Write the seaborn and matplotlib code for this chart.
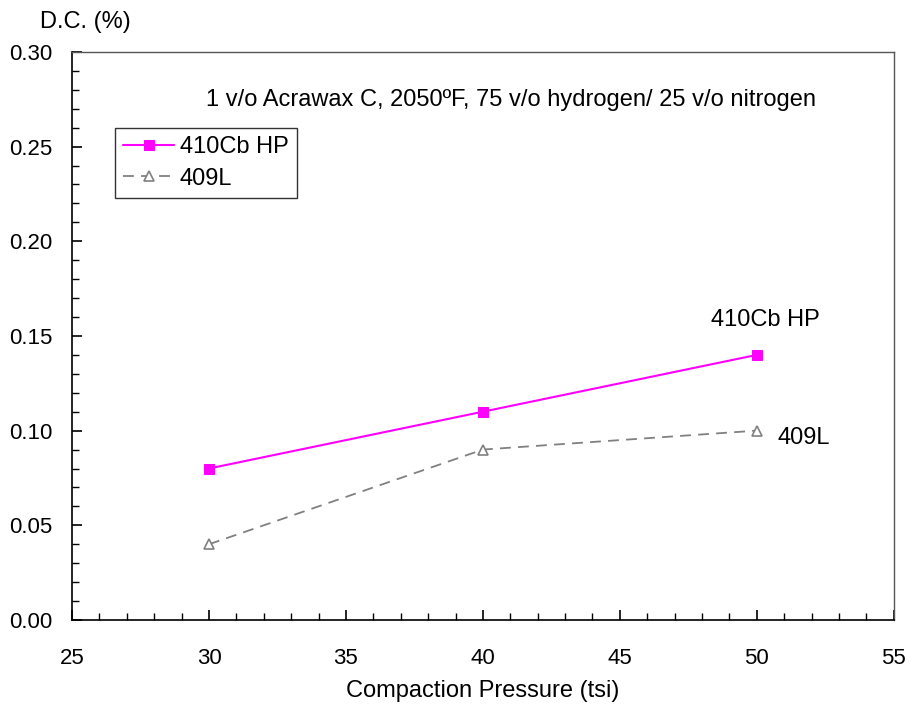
import matplotlib
matplotlib.use("Agg")
import matplotlib.pyplot as plt
import seaborn as sns
import pandas as pd
from matplotlib.ticker import MultipleLocator, FormatStrFormatter

pressure = [30, 40, 50]
dc_410 = [0.08, 0.11, 0.14]
dc_409 = [0.04, 0.09, 0.10]
series_names = ["410Cb HP", "409L"]
x_ticks = [25, 30, 35, 40, 45, 50, 55]
y_ticks = [0.00, 0.05, 0.10, 0.15, 0.20, 0.25, 0.30]

sns.set_theme(style="white")
plt.rcParams['font.family'] = ['Liberation Sans', 'DejaVu Sans']
plt.rcParams['text.color'] = 'black'
plt.rcParams['axes.labelcolor'] = 'black'

fig = plt.figure(figsize=(9.12, 7.11), dpi=100)
ax = fig.add_axes([0.079, 0.128, 0.901, 0.799])

df410 = pd.DataFrame({"x": pressure, "y": dc_410})
df409 = pd.DataFrame({"x": pressure, "y": dc_409})

sns.lineplot(data=df410, x="x", y="y", ax=ax, color="#FF00FF", lw=1.5,
             marker="s", markersize=7, markeredgecolor="#FF00FF",
             markerfacecolor="#FF00FF", label=series_names[0])
sns.lineplot(data=df409, x="x", y="y", ax=ax, color="#808080", lw=1.3,
             linestyle=(0, (6, 4)), marker="^", markersize=6.5,
             markeredgecolor="#808080", markerfacecolor="white",
             markeredgewidth=1.2, label=series_names[1])

ax.set_xlim(25, 55)
ax.set_ylim(0, 0.30)
ax.set_xticks(x_ticks)
ax.set_yticks(y_ticks)
ax.yaxis.set_major_formatter(FormatStrFormatter('%.2f'))
ax.xaxis.set_minor_locator(MultipleLocator(1))
ax.yaxis.set_minor_locator(MultipleLocator(0.01))
ax.tick_params(which='major', direction='in', length=7, width=1.2, colors='black',
               labelsize=16, top=False, right=False, bottom=True, left=True)
ax.tick_params(axis='x', which='major', pad=20)
ax.tick_params(axis='y', which='major', pad=14)
ax.tick_params(which='minor', direction='in', length=5, width=1.0, colors='black',
               top=False, right=False, bottom=True, left=True)
for s in ax.spines.values():
    s.set_visible(True)
    s.set_color('black')
    s.set_linewidth(1.2)
ax.spines['right'].set_color('#555555')
ax.spines['top'].set_color('#555555')
ax.spines['right'].set_linewidth(1.0)
ax.spines['top'].set_linewidth(1.0)

ax.set_xlabel("Compaction Pressure (tsi)", fontsize=17, labelpad=8, color='black')
ax.set_ylabel("")
fig.text(0.044, 0.969, "D.C. (%)", fontsize=17, ha='left', va='center', color='black')

ax.text(0.534, 0.915, "1 v/o Acrawax C, 2050ºF, 75 v/o hydrogen/ 25 v/o nitrogen",
        transform=ax.transAxes, fontsize=17, ha='center', va='center', color='black')

ax.annotate(series_names[0], xy=(pressure[2], dc_410[2]), xytext=(6.5, 25),
            textcoords='offset points', fontsize=17, ha='center', va='center',
            color='black')
ax.annotate(series_names[1], xy=(pressure[2], dc_409[2]), xytext=(15, -5),
            textcoords='offset points', fontsize=17, ha='left', va='center',
            color='black')

leg = ax.legend(loc='upper left', bbox_to_anchor=(0.052, 0.866), fontsize=17,
                frameon=True, fancybox=False, edgecolor='black', handlelength=2.16,
                borderpad=0.35, labelspacing=0.4, handletextpad=0.25,
                borderaxespad=0, labelcolor='black')
leg.get_frame().set_linewidth(1.0)

fig.savefig("out.png", dpi=100, facecolor='white')
